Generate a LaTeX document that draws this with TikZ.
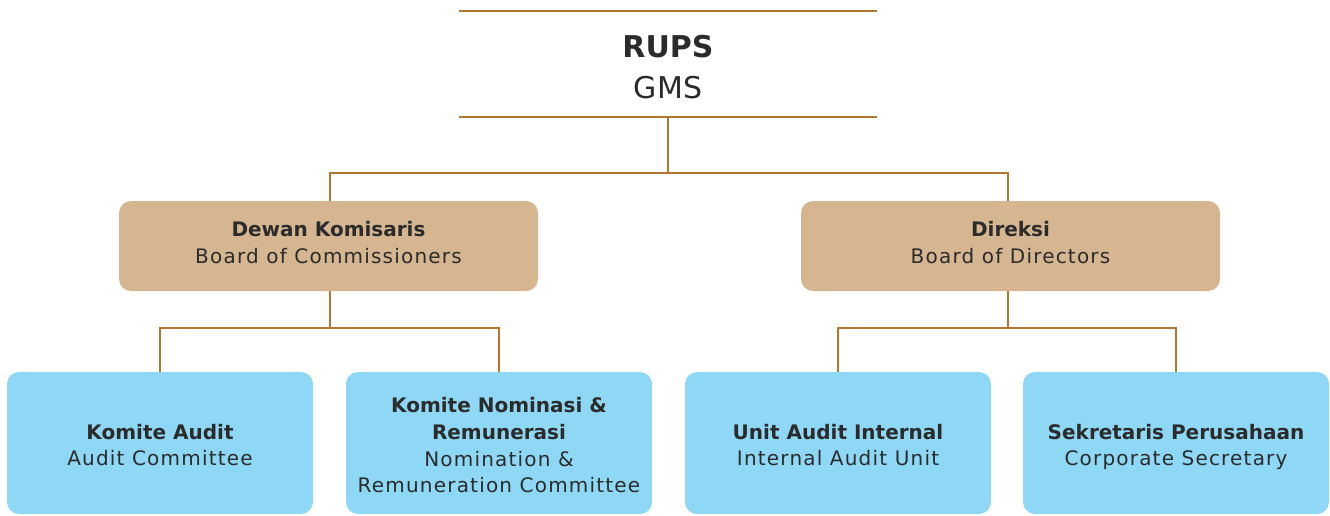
\documentclass[tikz,border=0pt]{standalone}
\usepackage{fontspec}
\setmainfont{DejaVu Sans}
\newfontfamily\regf[LetterSpace=6]{DejaVu Sans}
\definecolor{linebrown}{HTML}{B5772F}
\definecolor{tanfill}{HTML}{D6B691}
\definecolor{bluefill}{HTML}{8ED8F6}
\definecolor{txt}{HTML}{2B2B2B}
\tikzset{
  conn/.style={draw=linebrown, line width=2pt},
  tanbox/.style={rectangle, rounded corners=12pt, fill=tanfill, minimum width=419pt, minimum height=90pt, inner sep=0pt},
  bluebox/.style={rectangle, rounded corners=12pt, fill=bluefill, minimum width=306pt, minimum height=142pt, inner sep=0pt},
  lbl/.style={align=center, text=txt, font=\fontsize{20}{26.6}\selectfont, inner sep=0pt},
  topbox/.style={rectangle, minimum width=418pt, minimum height=106pt, inner sep=0pt},
  toplbl/.style={align=center, text=txt, font=\fontsize{30}{41}\selectfont, inner sep=0pt}
}
\begin{document}
\begin{tikzpicture}[x=1pt, y=-1pt]
\useasboundingbox (0,0) rectangle (1330,515);
\node[topbox] (rups) at (668,64) {};
\node[toplbl] (rupst) at (668,69.5) {\strut\textbf{RUPS}\\GMS\strut};
\draw[conn] (rups.north west) -- (rups.north east);
\draw[conn] (rups.south west) -- (rups.south east);

\node[tanbox] (dk) at (328.5,246) {};
\node[lbl] (dkt) at (328.5,244.5) {\strut\textbf{Dewan Komisaris}\\{\regf Board of Commissioners}\strut};
\node[tanbox] (dir) at (1010.5,246) {};
\node[lbl] (dirt) at (1010.5,244.5) {\strut\textbf{Direksi}\\{\regf Board of Directors}\strut};

\node[bluebox] (ka) at (160,443) {};
\node[lbl] (kat) at (160,447) {\strut\textbf{Komite Audit}\\{\regf Audit Committee}\strut};
\node[bluebox] (knr) at (499,443) {};
\node[lbl] (knrt) at (499,447.5) {\strut\textbf{Komite Nominasi \&}\\\textbf{Remunerasi}\\{\regf Nomination \&}\\{\regf Remuneration Committee}\strut};
\node[bluebox] (uai) at (838,443) {};
\node[lbl] (uait) at (838,447) {\strut\textbf{Unit Audit Internal}\\{\regf Internal Audit Unit}\strut};
\node[bluebox] (sp) at (1176,443) {};
\node[lbl] (spt) at (1176,447) {\strut\textbf{Sekretaris Perusahaan}\\{\regf Corporate Secretary}\strut};

\coordinate (j1) at (668,173);
\coordinate (j2) at (330,328);
\coordinate (j3) at (1008,328);

\draw[conn] (rups.south) -- (j1);
\draw[conn] (j1) -| (dk.north -| 330,0);
\draw[conn] (j1) -| (dir.north -| 1008,0);

\draw[conn] (dk.south -| j2) -- (j2);
\draw[conn] (j2) -| (ka.north);
\draw[conn] (j2) -| (knr.north);

\draw[conn] (dir.south -| j3) -- (j3);
\draw[conn] (j3) -| (uai.north);
\draw[conn] (j3) -| (sp.north);
\end{tikzpicture}
\end{document}
